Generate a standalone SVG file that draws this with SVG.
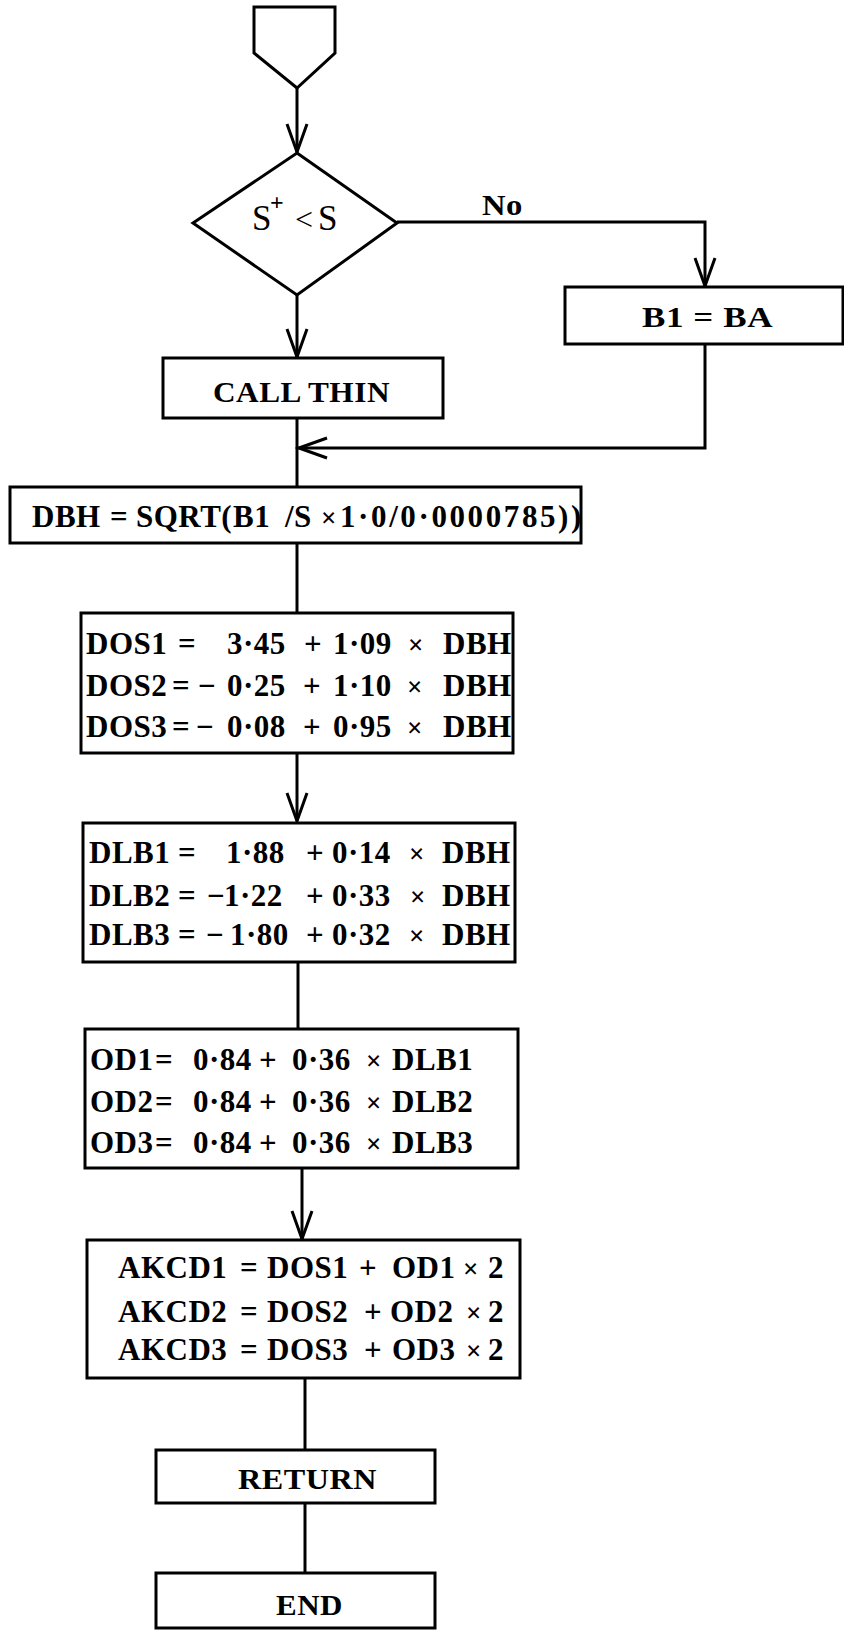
<svg xmlns="http://www.w3.org/2000/svg" width="844" height="1630" viewBox="0 0 844 1630">
<style>
.box{fill:#fff;stroke:#000;stroke-width:3}
.ln{fill:none;stroke:#000;stroke-width:3}
.t{font-family:"Liberation Serif","Times New Roman",serif;font-weight:bold;font-size:31px;fill:#000;letter-spacing:0.5px}
.lbl{font-size:30px}
.x{font-size:27px}
.reg{font-weight:normal}
</style>
<defs>
<marker id="arr" markerUnits="userSpaceOnUse" viewBox="-32 -14 36 28" markerWidth="36" markerHeight="28" refX="0" refY="0" orient="auto">
<path d="M-28,-10 L0,0 L-28,10" fill="none" stroke="#000" stroke-width="3"/>
</marker>
</defs>
<rect width="844" height="1630" fill="#fff"/>

<g id="connectors">
<path class="ln" d="M297,88 L297,152" marker-end="url(#arr)"/>
<path class="ln" d="M297,295 L297,357" marker-end="url(#arr)"/>
<path class="ln" d="M397,222 L705,222 L705,286" marker-end="url(#arr)"/>
<path class="ln" d="M705,344 L705,448 L299,448" marker-end="url(#arr)"/>
<path class="ln" d="M297,418 L297,487"/>
<path class="ln" d="M297,543 L297,613"/>
<path class="ln" d="M297,753 L297,821" marker-end="url(#arr)"/>
<path class="ln" d="M298,962 L298,1029"/>
<path class="ln" d="M302,1168 L302,1239" marker-end="url(#arr)"/>
<path class="ln" d="M305,1378 L305,1450"/>
<path class="ln" d="M305,1503 L305,1573"/>
<text class="t lbl" x="482" y="215" textLength="41" lengthAdjust="spacingAndGlyphs">No</text>
</g>

<g id="start">
<path class="box" d="M254,7 L335,7 L335,53 L297,88 L254,53 Z"/>
</g>

<g id="decision">
<path class="box" d="M297,153 L397,223 L297,295 L193,223 Z"/>
<text class="t reg" y="230"><tspan x="252" font-size="35">S</tspan><tspan x="270" y="210" font-size="24" font-weight="bold">+</tspan><tspan x="295" y="230" font-size="32">&lt;</tspan><tspan x="318" y="230" font-size="35">S</tspan></text>
</g>

<g id="b1ba">
<rect class="box" x="565" y="287" width="278" height="57"/>
<text class="t lbl" x="642" y="327" textLength="131" lengthAdjust="spacingAndGlyphs">B1 = BA</text>
</g>

<g id="callthin">
<rect class="box" x="163" y="358" width="280" height="60"/>
<text class="t lbl" x="213" y="402" textLength="177" lengthAdjust="spacingAndGlyphs">CALL THIN</text>
</g>

<g id="dbh">
<rect class="box" x="10" y="487" width="571" height="56"/>
<text class="t" y="527"><tspan x="32">DBH</tspan><tspan x="110">=</tspan><tspan x="136">SQRT(</tspan><tspan x="233">B1</tspan><tspan x="285">/S</tspan><tspan x="321" class="x">×</tspan><tspan x="340" letter-spacing="2.6">1·0/0·0000785))</tspan></text>
</g>

<g id="dos">
<rect class="box" x="81" y="613" width="432" height="140"/>
<text class="t" y="654"><tspan x="86">DOS1</tspan><tspan x="178">=</tspan><tspan x="227">3·45</tspan><tspan x="304">+</tspan><tspan x="333">1·09</tspan><tspan x="408" class="x">×</tspan><tspan x="443">DBH</tspan></text>
<text class="t" y="696"><tspan x="86">DOS2</tspan><tspan x="172">=</tspan><tspan x="198">−</tspan><tspan x="227">0·25</tspan><tspan x="303">+</tspan><tspan x="333">1·10</tspan><tspan x="407" class="x">×</tspan><tspan x="443">DBH</tspan></text>
<text class="t" y="737"><tspan x="86">DOS3</tspan><tspan x="172">=</tspan><tspan x="196">−</tspan><tspan x="227">0·08</tspan><tspan x="303">+</tspan><tspan x="333">0·95</tspan><tspan x="407" class="x">×</tspan><tspan x="443">DBH</tspan></text>
</g>

<g id="dlb">
<rect class="box" x="83" y="823" width="432" height="139"/>
<text class="t" y="863"><tspan x="89">DLB1</tspan><tspan x="178">=</tspan><tspan x="226">1·88</tspan><tspan x="306">+</tspan><tspan x="332">0·14</tspan><tspan x="409" class="x">×</tspan><tspan x="442">DBH</tspan></text>
<text class="t" y="906"><tspan x="89">DLB2</tspan><tspan x="178">=</tspan><tspan x="207">−</tspan><tspan x="224">1·22</tspan><tspan x="306">+</tspan><tspan x="332">0·33</tspan><tspan x="410" class="x">×</tspan><tspan x="442">DBH</tspan></text>
<text class="t" y="945"><tspan x="89">DLB3</tspan><tspan x="178">=</tspan><tspan x="206">−</tspan><tspan x="230">1·80</tspan><tspan x="306">+</tspan><tspan x="332">0·32</tspan><tspan x="409" class="x">×</tspan><tspan x="442">DBH</tspan></text>
</g>

<g id="od">
<rect class="box" x="85" y="1029" width="433" height="139"/>
<text class="t" y="1070"><tspan x="90">OD1</tspan><tspan x="155">=</tspan><tspan x="193">0·84</tspan><tspan x="259">+</tspan><tspan x="292">0·36</tspan><tspan x="366" class="x">×</tspan><tspan x="392">DLB1</tspan></text>
<text class="t" y="1112"><tspan x="90">OD2</tspan><tspan x="155">=</tspan><tspan x="193">0·84</tspan><tspan x="259">+</tspan><tspan x="292">0·36</tspan><tspan x="366" class="x">×</tspan><tspan x="392">DLB2</tspan></text>
<text class="t" y="1153"><tspan x="90">OD3</tspan><tspan x="155">=</tspan><tspan x="193">0·84</tspan><tspan x="259">+</tspan><tspan x="292">0·36</tspan><tspan x="366" class="x">×</tspan><tspan x="392">DLB3</tspan></text>
</g>

<g id="akcd">
<rect class="box" x="87" y="1240" width="433" height="138"/>
<text class="t" y="1278"><tspan x="118">AKCD1</tspan><tspan x="240">=</tspan><tspan x="267">DOS1</tspan><tspan x="359">+</tspan><tspan x="392">OD1</tspan><tspan x="463" class="x">×</tspan><tspan x="488">2</tspan></text>
<text class="t" y="1322"><tspan x="118">AKCD2</tspan><tspan x="240">=</tspan><tspan x="267">DOS2</tspan><tspan x="364">+</tspan><tspan x="390">OD2</tspan><tspan x="466" class="x">×</tspan><tspan x="488">2</tspan></text>
<text class="t" y="1360"><tspan x="118">AKCD3</tspan><tspan x="240">=</tspan><tspan x="267">DOS3</tspan><tspan x="364">+</tspan><tspan x="392">OD3</tspan><tspan x="466" class="x">×</tspan><tspan x="488">2</tspan></text>
</g>

<g id="return">
<rect class="box" x="156" y="1450" width="279" height="53"/>
<text class="t lbl" x="238" y="1489" textLength="139" lengthAdjust="spacingAndGlyphs">RETURN</text>
</g>

<g id="end">
<rect class="box" x="156" y="1573" width="279" height="55"/>
<text class="t lbl" x="276" y="1615" textLength="67" lengthAdjust="spacingAndGlyphs">END</text>
</g>
</svg>
